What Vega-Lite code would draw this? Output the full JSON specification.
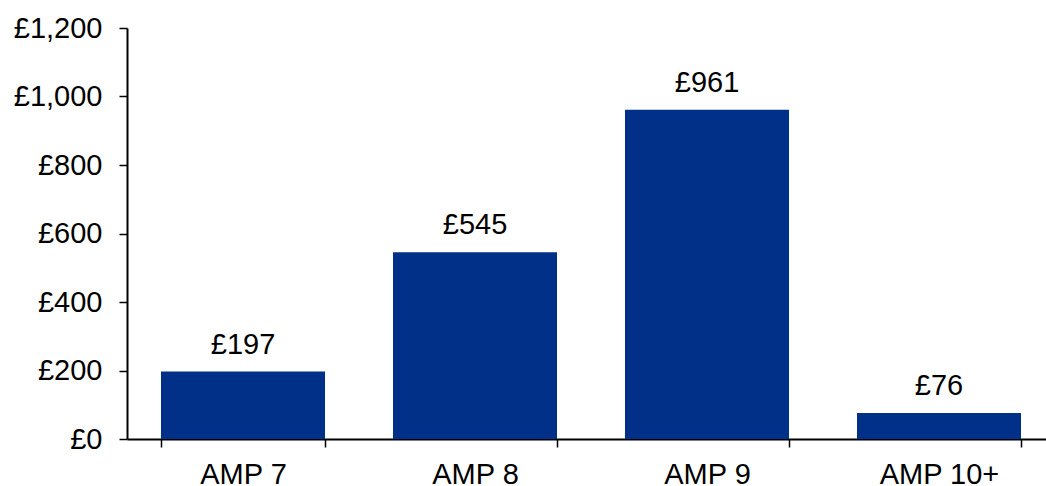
{
  "$schema": "https://vega.github.io/schema/vega-lite/v6.json",
  "autosize": {"type": "none"},
  "padding": {"left": 127, "top": 28, "right": 0, "bottom": 47},
  "width": 919,
  "height": 411,
  "background": "white",
  "data": {
    "values": [
      {"period": "AMP 7", "cost": 197},
      {"period": "AMP 8", "cost": 545},
      {"period": "AMP 9", "cost": 961},
      {"period": "AMP 10+", "cost": 76}
    ]
  },
  "config": {
    "locale": {
      "number": {"decimal": ".", "thousands": ",", "grouping": [3], "currency": ["£", ""]}
    },
    "view": {"stroke": null},
    "font": "Liberation Sans",
    "axis": {
      "labelFont": "Liberation Sans",
      "labelFontSize": 29,
      "labelColor": "#000000",
      "domainColor": "#000000",
      "domainWidth": 2,
      "tickColor": "#000000",
      "tickWidth": 1.5,
      "tickSize": 8,
      "grid": false,
      "title": null
    }
  },
  "encoding": {
    "x": {
      "field": "period",
      "type": "nominal",
      "sort": null,
      "scale": {"range": [0, 928], "paddingInner": 0.293, "paddingOuter": 0.1465},
      "axis": {"labelAngle": 0, "tickBand": "extent", "labelPadding": 13}
    },
    "y": {
      "field": "cost",
      "type": "quantitative",
      "scale": {"domain": [0, 1200], "nice": false},
      "axis": {"values": [0, 200, 400, 600, 800, 1000, 1200], "format": "$,.0f", "labelPadding": 17}
    }
  },
  "layer": [
    {"mark": {"type": "bar", "color": "#003087"}},
    {
      "mark": {"type": "text", "baseline": "alphabetic", "dy": -18, "fontSize": 29, "font": "Liberation Sans", "color": "#000000"},
      "encoding": {"text": {"field": "cost", "type": "quantitative", "format": "$,.0f"}}
    }
  ]
}
